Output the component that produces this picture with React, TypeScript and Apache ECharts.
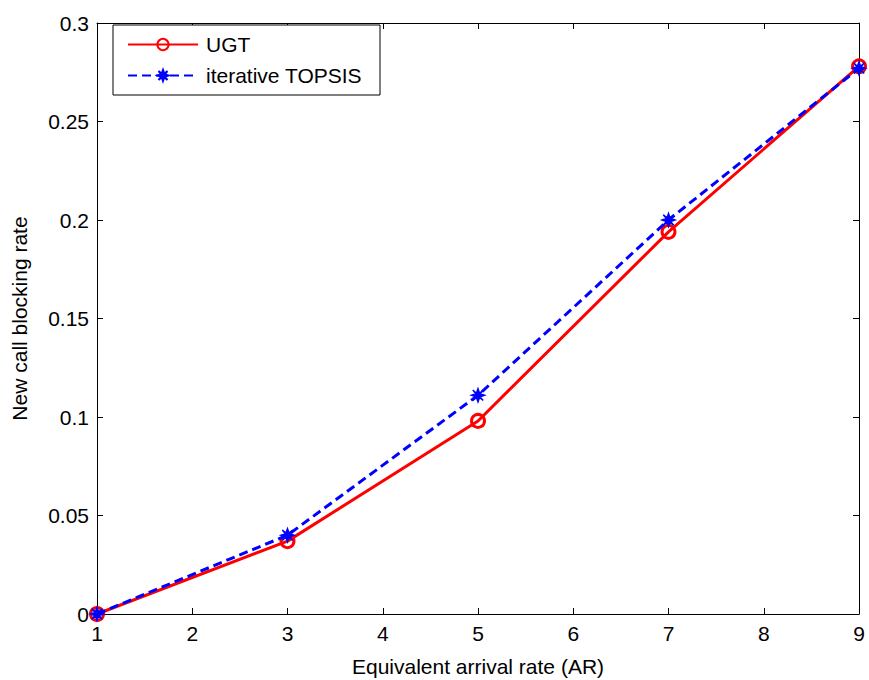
import React, { useEffect, useRef } from "react";
import * as echarts from "echarts";

const arrivalRates = [1, 3, 5, 7, 9];
const ugtValues = [0, 0.037, 0.098, 0.194, 0.278];
const topsisValues = [0, 0.040, 0.111, 0.200, 0.277];
const seriesNames = ["UGT", "iterative TOPSIS"];

const FONT = "'Liberation Sans', Arial, sans-serif";
const FS = 21;
const STAR =
  "path://M0,-5 L1.2,-1.6 L4,-4 L1.6,-1.2 L5,0 L1.6,1.2 L4,4 L1.2,1.6 L0,5 L-1.2,1.6 L-4,4 L-1.6,1.2 L-5,0 L-1.6,-1.2 L-4,-4 L-1.2,-1.6 Z";

export default function App() {
  const ref = useRef<HTMLDivElement>(null);
  useEffect(() => {
    if (!ref.current) return;
    const chart = echarts.init(ref.current, null, { renderer: "svg" });
    const axisLine = { show: true, onZero: false, lineStyle: { color: "#000", width: 1 } };
    const tick = { show: true, inside: true, length: 6, lineStyle: { color: "#000" } };
    chart.setOption({
      animation: false,
      backgroundColor: "#fff",
      grid: { left: 97, top: 23, right: 10, bottom: 66, outerBoundsMode: "none", containLabel: false },
      legend: {
        left: 113,
        top: 25,
        orient: "vertical",
        data: seriesNames,
        itemWidth: 70,
        itemHeight: 14,
        itemGap: 10,
        padding: [9, 18, 9, 14],
        borderColor: "#000",
        borderWidth: 1,
        backgroundColor: "#fff",
        textStyle: { fontFamily: FONT, fontSize: FS, color: "#000", padding: [0, 0, 0, 3] },
      },
      xAxis: [
        {
          type: "value",
          min: 1,
          max: 9,
          interval: 1,
          position: "bottom",
          name: "Equivalent arrival rate (AR)",
          nameLocation: "middle",
          nameGap: 42,
          nameTextStyle: { fontFamily: FONT, fontSize: FS, color: "#000" },
          axisLine,
          axisTick: tick,
          splitLine: { show: false },
          axisLabel: { fontFamily: FONT, fontSize: FS, color: "#000", margin: 9 },
        },
        {
          type: "value",
          min: 1,
          max: 9,
          interval: 1,
          position: "top",
          axisLine,
          axisTick: tick,
          splitLine: { show: false },
          axisLabel: { show: false },
        },
      ],
      yAxis: [
        {
          type: "value",
          min: 0,
          max: 0.3,
          interval: 0.05,
          position: "left",
          name: "New call blocking rate",
          nameLocation: "middle",
          nameGap: 67,
          nameTextStyle: { fontFamily: FONT, fontSize: FS, color: "#000" },
          axisLine,
          axisTick: tick,
          splitLine: { show: false },
          axisLabel: { fontFamily: FONT, fontSize: FS, color: "#000", margin: 8 },
        },
        {
          type: "value",
          min: 0,
          max: 0.3,
          interval: 0.05,
          position: "right",
          axisLine,
          axisTick: tick,
          splitLine: { show: false },
          axisLabel: { show: false },
        },
      ],
      series: [
        {
          name: seriesNames[0],
          type: "line",
          xAxisIndex: 0,
          yAxisIndex: 0,
          data: arrivalRates.map((x, i) => [x, ugtValues[i]]),
          symbol: "circle",
          symbolSize: 13,
          lineStyle: { color: "#ff0000", width: 3 },
          itemStyle: { color: "rgba(255,255,255,0)", borderColor: "#ff0000", borderWidth: 3 },
          z: 2,
        },
        {
          name: seriesNames[1],
          type: "line",
          xAxisIndex: 0,
          yAxisIndex: 0,
          data: arrivalRates.map((x, i) => [x, topsisValues[i]]),
          symbol: STAR,
          symbolSize: 13,
          lineStyle: { color: "#0000ff", width: 3, type: [9, 5] },
          itemStyle: { color: "#0000ff", borderColor: "#0000ff", borderWidth: 1.5 },
          z: 3,
        },
      ],
    });
    return () => chart.dispose();
  }, []);
  return (
    <div
      ref={ref}
      style={{ position: "fixed", left: 0, top: 0, width: 869, height: 680, background: "#fff" }}
    />
  );
}
